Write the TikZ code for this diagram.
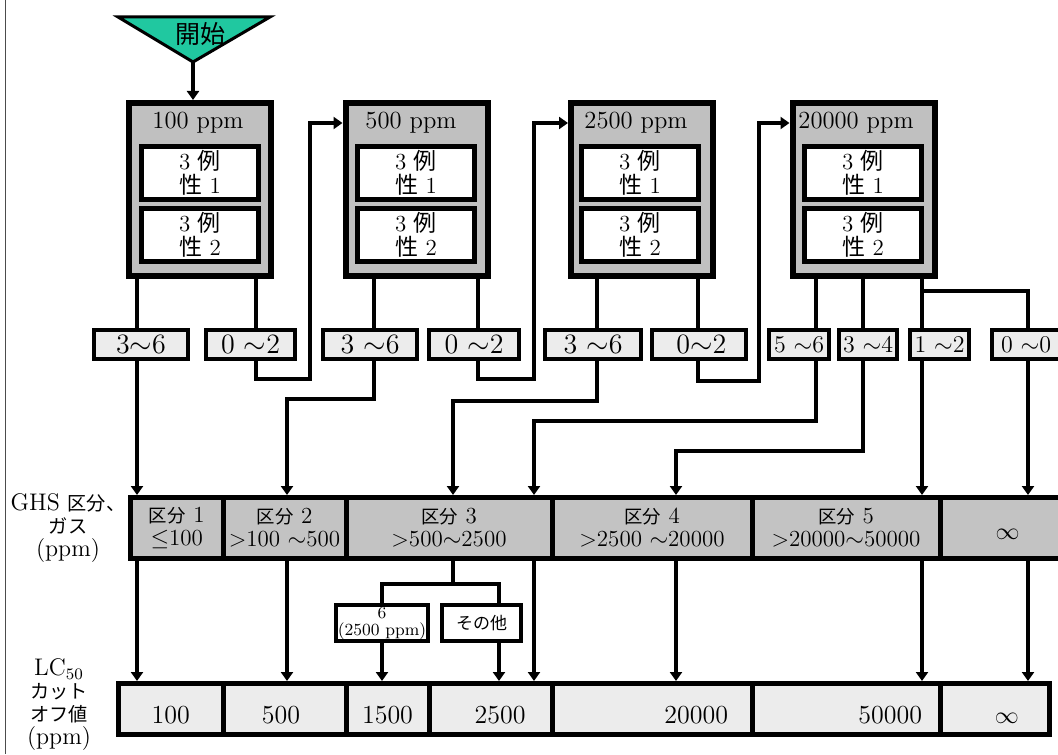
\documentclass[tikz,border=0pt]{standalone}
\usepackage{amsmath}
\usepackage{amssymb}
\usepackage{xcolor}
\usepackage{fontspec}
\usepackage{tikz}
\usetikzlibrary{arrows.meta}

\newfontfamily\cjk{Noto Sans CJK JP}
\newfontfamily\cjks{Noto Sans CJK JP}[Scale=0.8]
\definecolor{startgreen}{RGB}{32,200,160}
\definecolor{boxgray}{RGB}{192,192,192}
\definecolor{cellgray}{RGB}{195,195,195}
\definecolor{palegray}{RGB}{236,236,236}

\begin{document}
\begin{tikzpicture}[
      x=0.5pt, y=-0.5pt,
      >={Triangle[length=4.5pt, width=6pt]},
      wire/.style={line width=2pt},
      arrw/.style={wire, ->},
      dosebox/.style={draw, line width=3pt, fill=boxgray, inner sep=0pt,
        minimum width=71pt, minimum height=86.5pt},
      dosetitle/.style={inner sep=0pt, font=\fontsize{12.3}{12}\selectfont},
      testbox/.style={draw, line width=2.5pt, fill=white, inner sep=0pt, align=center,
        minimum width=58.5pt, minimum height=26.5pt, font=\fontsize{11.5}{12}\selectfont},
      scorebox/.style={draw, line width=2pt, fill=palegray, inner sep=0pt,
        minimum height=14.5pt, font=\fontsize{14}{14}\selectfont},
      narrowtext/.style={font=\fontsize{12}{12}\selectfont},
      catbox/.style={draw, line width=2.5pt, fill=cellgray, inner sep=0pt, align=center,
        minimum height=30.5pt, font=\fontsize{11.5}{11.5}\selectfont},
      cutbox/.style={draw, line width=2.5pt, fill=palegray, inner sep=0pt,
        minimum height=25.5pt, text height=14pt, text depth=0pt,
        font=\fontsize{13}{13}\selectfont},
      subbox/.style={draw, line width=2pt, fill=white, inner sep=0pt, align=center,
        minimum height=18pt, font=\fontsize{8.5}{8.5}\selectfont},
      sidetext/.style={align=center, inner sep=0pt, font=\fontsize{12}{11.5}\selectfont},
    ]

    \useasboundingbox (0,0) rectangle (1058,754);
    \draw[gray!60!black, line width=0.7pt] (5.5,0) -- (5.5,754);

    % start
    \filldraw[fill=startgreen, line width=1.5pt] (118,17) -- (270,17) -- (193,62) -- cycle;
    \coordinate (tip) at (193,62);
    \node[inner sep=0pt, font=\cjk\fontsize{12.5}{12.5}\selectfont] (start) at (200,34) {開始};

    % exposure groups
    \node[dosebox] (box1) at (200,189.5) {};
    \node[dosebox] (box2) at (416.5,189.5) {};
    \node[dosebox] (box3) at (642,189.5) {};
    \node[dosebox] (box4) at (863.5,189.5) {};

    \node[dosetitle] (t1) at (198,123) {100 ppm};
    \node[dosetitle] (t2) at (411,123) {500 ppm};
    \node[dosetitle] (t3) at (636,123) {2500 ppm};
    \node[dosetitle] (t4) at (856,123) {20000 ppm};

    \node[testbox] (sa1) at (200,173) {3 {\cjk 例}\\{\cjk 性} 1};
    \node[testbox] (sb1) at (200,235) {3 {\cjk 例}\\{\cjk 性} 2};
    \node[testbox] (sa2) at (416,173) {3 {\cjk 例}\\{\cjk 性} 1};
    \node[testbox] (sb2) at (416,235) {3 {\cjk 例}\\{\cjk 性} 2};
    \node[testbox] (sa3) at (640,173) {3 {\cjk 例}\\{\cjk 性} 1};
    \node[testbox] (sb3) at (640,235) {3 {\cjk 例}\\{\cjk 性} 2};
    \node[testbox] (sa4) at (863,173) {3 {\cjk 例}\\{\cjk 性} 1};
    \node[testbox] (sb4) at (863,235) {3 {\cjk 例}\\{\cjk 性} 2};

    % outcome ranges
    \node[scorebox, minimum width=47pt] (l1) at (141,344.5) {3$\sim$6};
    \node[scorebox, minimum width=44.5pt] (l2) at (250.5,344.5) {0 $\sim$2};
    \node[scorebox, minimum width=47pt] (l3) at (370,344.5) {3 $\sim$6};
    \node[scorebox, minimum width=45pt] (l4) at (474,344.5) {0 $\sim$2};
    \node[scorebox, minimum width=48pt] (l5) at (593,344.5) {3 $\sim$6};
    \node[scorebox, minimum width=47pt] (l6) at (699,344.5) {\,0$\sim$2};
    \node[scorebox, narrowtext, minimum width=30pt] (l7) at (799,344.5) {5 $\sim$6};
    \node[scorebox, narrowtext, minimum width=29pt] (l8) at (868,344.5) {3 $\sim$4};
    \node[scorebox, narrowtext, minimum width=29.5pt] (l9) at (939.5,344.5) {1 $\sim$2};
    \node[scorebox, narrowtext, minimum width=34pt] (l10) at (1026,344.5) {0 $\sim$0};

    % GHS categories
    \node[catbox, minimum width=46.25pt] (g1) at (176.75,528) {{\cjks 区分} 1\\$\leq$100};
    \node[catbox, minimum width=61.5pt] (g2) at (284.5,528) {{\cjks 区分} 2\\>100 $\sim$500};
    \node[catbox, minimum width=103pt] (g3) at (449,528) {{\cjks 区分} 3\\>500$\sim$2500};
    \node[catbox, minimum width=100pt] (g4) at (652,528) {{\cjks 区分} 4\\>2500 $\sim$20000};
    \node[catbox, minimum width=94pt] (g5) at (846,528) {{\cjks 区分} 5\\>20000$\sim$50000};
    \node[catbox, minimum width=67.5pt] (g6) at (1007.5,528) {\mbox{}\\$\infty$};

    \node[sidetext] (ghs) at (68,528) {GHS {\cjks 区分、}\\{\cjks ガス}\\(ppm)};

    % split of category 3
    \node[subbox, minimum width=46pt] (s1) at (382,623) {6\\(2500 ppm)};
    \node[subbox, minimum width=39.5pt] (s2) at (481.5,623) {\cjk その他};

    % cut-off values
    \node[cutbox, minimum width=52.25pt] (lc1) at (170.75,709) {100};
    \node[cutbox, minimum width=61.5pt] (lc2) at (284.5,709) {500\hspace*{3.5pt}};
    \node[cutbox, minimum width=41.5pt] (lc3) at (387.5,709) {1500};
    \node[cutbox, minimum width=61.5pt] (lc4) at (490.5,709) {\hspace*{9.5pt}2500};
    \node[cutbox, minimum width=100pt, text width=76pt, inner xsep=12pt, align=right] (lc5) at (652,709) {20000};
    \node[cutbox, minimum width=94pt, text width=76pt, inner xsep=9pt, align=right] (lc6) at (846,709) {50000};
    \node[cutbox, minimum width=54.75pt] (lc7) at (994.75,709) {\hspace*{12pt}$\infty$};

    \node[sidetext] (lc) at (59,705) {LC$_{50}$\\{\cjks カット}\\{\cjks オフ値}\\(ppm)};

    % columns and bends
    \coordinate (x1) at (137,0);
    \coordinate (x2) at (256,0);
    \coordinate (x3) at (374,0);
    \coordinate (x4) at (478,0);
    \coordinate (x5) at (597,0);
    \coordinate (x6) at (698,0);
    \coordinate (x7) at (816,0);
    \coordinate (x8) at (863,0);
    \coordinate (x9) at (922,0);
    \coordinate (x12) at (499,0);
    \coordinate (r2) at (310,379);
    \coordinate (r3) at (287,399);
    \coordinate (r4) at (534,379);
    \coordinate (r5) at (453,401);
    \coordinate (r6) at (759,381);
    \coordinate (r7) at (534,421);
    \coordinate (r8) at (676,451);
    \coordinate (r10) at (1028,291);
    \coordinate (split) at (453,584);

    \draw[arrw] (tip) -- (tip |- box1.north);

    \draw[wire] (box1.south -| x1) -- (l1.north -| x1);
    \draw[wire] (box1.south -| x2) -- (l2.north -| x2);
    \draw[wire] (box2.south -| x3) -- (l3.north -| x3);
    \draw[wire] (box2.south -| x4) -- (l4.north -| x4);
    \draw[wire] (box3.south -| x5) -- (l5.north -| x5);
    \draw[wire] (box3.south -| x6) -- (l6.north -| x6);
    \draw[wire] (box4.south -| x7) -- (l7.north -| x7);
    \draw[wire] (box4.south -| x8) -- (l8.north -| x8);
    \draw[wire] (box4.south -| x9) -- (l9.north -| x9);
    \draw[wire] (box4.south -| x9) |- (r10) -- (r10 |- l10.north);

    \draw[arrw] (l2.south -| x2) |- (r2) |- (box2.west |- t2);
    \draw[arrw] (l4.south -| x4) |- (r4) |- (box3.west |- t3);
    \draw[arrw] (l6.south -| x6) |- (r6) |- (box4.west |- t4);

    \draw[arrw] (l1.south -| x1) -- (g1.north -| x1);
    \draw[arrw] (l3.south -| x3) |- (r3) -- (r3 |- g2.north);
    \draw[arrw] (l5.south -| x5) |- (r5) -- (r5 |- g3.north);
    \draw[arrw] (l7.south -| x7) |- (r7) -- (r7 |- g3.north);
    \draw[arrw] (l8.south -| x8) |- (r8) -- (r8 |- g4.north);
    \draw[arrw] (l9.south -| x9) -- (g5.north -| x9);
    \draw[arrw] (l10.south -| r10) -- (g6.north -| r10);

    \draw[arrw] (g1.south -| x1) -- (lc1.north -| x1);
    \draw[arrw] (g2.south -| r3) -- (lc2.north -| r3);
    \draw[wire] (g3.south -| split) -- (split);
    \draw[wire] (s1.north) |- (split) -| (s2.north -| x12);
    \draw[arrw] (s1.south) -- (lc3.north -| s1);
    \draw[arrw] (s2.south -| x12) -- (lc4.north -| x12);
    \draw[arrw] (g3.south -| r7) -- (lc4.north -| r7);
    \draw[arrw] (g4.south -| r8) -- (lc5.north -| r8);
    \draw[arrw] (g5.south -| x9) -- (lc6.north -| x9);
    \draw[arrw] (g6.south -| r10) -- (lc7.north -| r10);

  \end{tikzpicture}
\end{document}
